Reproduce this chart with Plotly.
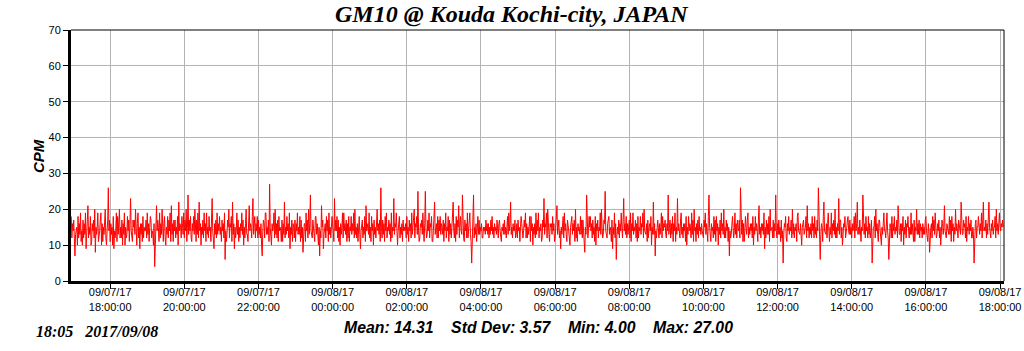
import plotly.graph_objects as go
import pandas as pd

# ---------------- data ----------------
title_text = "GM10 @ Kouda Kochi-city, JAPAN"
y_label = "CPM"
stamp_time = "18:05"
stamp_date = "2017/09/08"

start_time = "2017-09-07 16:57"   # first one-minute sample
sample_step = "1min"

# CPM readings, one row per hour (60 one-minute samples)
cpm_rows = [
    [18,12,16,14,17,11,7,13,15,15,10,18,12,16,13,19,11,14,10,17,12,16,13,19,9,14,17,21,12,15,13,18,10,11,16,14,17,12,20,8,15,13,15,19,11,12,14,17,19,10,16,11,15,13,16,20,12,10,14,17],
    [26,14,17,11,16,13,15,10,18,9,14,12,14,19,11,18,13,16,20,12,15,12,17,10,16,13,19,10,15,12,13,18,14,17,11,16,23,14,12,11,17,15,17,13,20,14,10,16,19,12,15,9,16,13,16,11,18,12,15,14],
    [14,17,12,19,13,16,11,15,18,17,12,14,13,10,16,4,12,15,21,14,17,15,11,19,12,16,13,20,14,11,16,18,12,10,15,13,18,12,17,14,19,11,21,13,16,11,17,14,17,12,15,13,18,10,22,14,16,15,12,18],
    [16,13,19,12,17,14,20,11,15,24,13,17,14,18,12,11,16,14,18,13,20,15,11,17,13,19,12,22,14,16,10,15,13,17,12,19,14,16,11,19,13,15,12,18,14,15,11,17,23,14,12,9,16,13,17,12,19,13,16,14],
    [18,13,15,11,17,14,16,12,19,6,14,11,13,17,15,20,12,16,15,18,11,22,13,16,9,15,12,14,19,13,17,11,15,12,16,14,19,13,17,10,15,12,16,20,13,13,11,17,21,14,16,15,12,18,23,13,15,18,12,16],
    [14,18,12,17,13,15,12,16,10,7,14,17,16,12,19,19,13,15,13,17,11,27,15,12,10,16,14,15,19,12,20,13,16,12,17,11,18,14,15,14,11,17,11,16,13,22,12,15,13,18,14,16,12,19,9,15,13,17,11,16],
    [15,12,17,11,16,14,19,13,15,13,18,11,17,12,15,8,14,16,16,11,19,14,17,12,20,13,16,24,14,12,12,17,15,15,11,18,18,13,16,13,10,15,7,14,12,21,15,17,9,13,16,16,12,18,14,17,11,19,13,15],
    [12,15,18,16,13,11,23,14,17,14,18,12,17,11,15,10,16,13,15,19,12,19,14,16,13,17,11,16,12,18,11,15,14,18,13,16,14,19,12,20,13,15,12,16,11,15,18,13,9,14,16,17,12,15,13,18,11,21,14,16],
    [16,13,19,12,15,11,18,14,16,10,17,13,15,12,18,20,14,16,13,17,11,26,15,12,17,13,16,11,18,14,19,12,15,14,17,13,16,11,19,12,15,14,23,13,16,15,19,11,10,14,17,18,12,15,13,16,11,17,14,15],
    [14,16,12,18,13,15,11,17,14,16,12,19,13,15,17,20,12,16,15,18,13,25,14,11,12,16,15,17,13,19,14,11,16,25,15,12,13,17,14,19,12,16,15,18,11,11,14,17,22,13,15,16,12,18,12,17,14,18,13,16],
    [15,13,17,11,16,14,19,12,15,14,18,11,17,13,16,12,15,19,22,14,12,16,11,18,13,17,15,21,12,16,18,14,13,24,15,12,11,17,14,16,12,19,12,15,17,19,13,11,5,14,16,24,12,15,13,16,11,15,18,13],
    [17,13,15,14,16,12,12,15,14,15,13,17,14,16,13,16,12,15,13,17,14,18,13,15,12,16,14,15,13,17,14,12,16,17,14,13,11,15,14,16,13,17,13,15,12,15,18,13,19,14,16,22,13,15,12,16,14,14,17,12],
    [13,16,12,17,14,15,11,15,18,16,13,12,14,17,15,19,12,16,12,15,13,15,18,11,18,14,16,10,15,13,16,12,19,13,17,14,19,12,15,14,16,11,12,17,15,23,13,16,15,19,12,20,14,13,11,16,15,16,13,18],
    [14,16,11,12,15,17,21,13,16,17,12,14,9,15,13,15,18,12,19,14,16,13,11,17,16,14,12,10,15,18,18,13,16,14,17,11,20,12,15,11,16,14,15,13,18,13,17,12,17,14,10,8,15,13,24,16,12,14,18,15],
    [18,14,16,12,17,13,15,11,18,10,16,14,17,12,15,14,19,13,20,15,12,13,17,16,25,14,12,12,16,18,18,13,15,14,11,17,9,15,13,19,12,16,6,13,15,13,17,12,16,14,19,15,12,17,23,14,16,13,18,12],
    [16,13,15,17,12,19,11,16,14,19,13,15,14,17,12,16,11,18,12,15,14,18,13,16,15,19,12,20,14,13,13,16,11,17,12,15,16,14,18,10,15,13,22,13,16,7,14,12,14,17,15,12,16,13,15,19,12,18,14,16],
    [15,17,13,12,16,14,24,13,15,17,12,16,13,18,11,16,14,19,11,15,13,23,14,16,14,12,17,19,13,15,12,16,14,16,11,18,10,15,13,18,14,16,15,12,19,13,17,11,20,14,15,11,16,13,17,12,18,14,15,13],
    [16,14,13,12,17,15,19,13,16,14,11,18,24,15,13,11,16,14,15,12,18,13,17,11,18,14,16,10,15,13,17,12,19,14,16,13,20,12,15,12,17,14,16,11,15,7,14,12,13,16,18,15,12,14,19,13,16,12,17,15],
    [14,17,12,26,15,13,17,11,16,11,14,18,15,13,17,19,12,15,13,16,14,16,12,18,10,15,13,18,14,16,14,11,17,21,13,15,12,16,14,16,13,19,9,15,12,17,13,16,13,18,11,20,14,15,15,12,17,12,16,14],
    [24,14,12,16,13,17,13,15,11,17,12,14,5,13,16,15,18,12,11,16,14,18,13,15,14,17,12,20,13,16,12,15,14,16,11,18,19,14,13,13,16,12,10,15,17,17,13,14,15,18,12,21,14,16,12,15,13,16,12,18],
    [14,16,12,18,13,15,12,17,14,26,15,12,6,13,16,15,11,18,22,14,13,13,16,12,16,19,14,11,15,13,19,12,16,14,17,13,20,12,15,12,16,14,23,13,17,17,12,15,10,14,16,15,18,12,13,15,17,18,14,13],
    [17,13,15,12,16,14,15,18,12,19,14,16,22,13,15,13,17,11,11,15,14,24,16,13,16,12,18,14,15,12,18,13,16,12,14,17,5,13,15,15,18,12,20,14,16,13,11,17,17,14,12,10,15,13,16,19,14,14,12,16],
    [19,14,12,6,13,16,15,12,18,12,16,14,18,13,15,14,17,12,21,15,13,13,16,11,16,14,18,10,15,13,17,12,16,15,18,14,12,15,13,19,13,16,14,11,17,11,15,14,20,13,16,13,17,12,16,14,15,12,16,13],
    [15,13,17,18,14,12,11,16,14,8,13,15,16,12,18,14,17,13,19,15,12,13,16,14,17,12,15,10,14,17,16,13,15,21,14,12,12,16,15,15,13,18,13,17,11,18,14,16,11,15,13,20,14,16,14,12,17,16,15,13],
    [22,14,13,13,17,15,16,12,18,11,15,14,18,13,16,14,17,12,12,15,13,5,14,16,17,12,15,15,18,13,13,16,14,19,12,17,22,14,15,14,17,12,16,13,18,22,15,13,12,16,14,17,13,15,15,18,12,20,14,16],
    [13,16,19,15,14,16,15,17,15],
]

stat_mean = 14.31
stat_std = 3.57
stat_min = 4.00
stat_max = 27.00

tick_values = [
    "2017-09-07 18:00", "2017-09-07 20:00", "2017-09-07 22:00",
    "2017-09-08 00:00", "2017-09-08 02:00", "2017-09-08 04:00",
    "2017-09-08 06:00", "2017-09-08 08:00", "2017-09-08 10:00",
    "2017-09-08 12:00", "2017-09-08 14:00", "2017-09-08 16:00",
    "2017-09-08 18:00",
]
tick_labels = [
    "09/07/17<br>18:00:00", "09/07/17<br>20:00:00", "09/07/17<br>22:00:00",
    "09/08/17<br>00:00:00", "09/08/17<br>02:00:00", "09/08/17<br>04:00:00",
    "09/08/17<br>06:00:00", "09/08/17<br>08:00:00", "09/08/17<br>10:00:00",
    "09/08/17<br>12:00:00", "09/08/17<br>14:00:00", "09/08/17<br>16:00:00",
    "09/08/17<br>18:00:00",
]
x_range = ["2017-09-07 16:56:36", "2017-09-08 18:06:24"]

# ---------------- figure ----------------
cpm = [v for row in cpm_rows for v in row]
times = pd.date_range(start_time, periods=len(cpm), freq=sample_step)

W, H = 1024, 351
L, R, T, B = 71, 20, 30, 70
PW, PH = W - L - R, H - T - B


def px(x):
    return (x - L) / PW


def py(y):
    return (H - B - y) / PH


fig = go.Figure()
fig.add_trace(go.Scatter(
    x=[times[0], times[-1]], y=[stat_mean, stat_mean], mode="lines",
    line=dict(color="#FFB400", width=1), hoverinfo="skip", showlegend=False))
fig.add_trace(go.Scatter(
    x=times, y=cpm, mode="lines",
    line=dict(color="#FF0000", width=1), showlegend=False))

tick_font = dict(family="Liberation Sans, Arial, sans-serif", size=11, color="black")

fig.update_xaxes(
    type="date", range=x_range, automargin=False,
    tickmode="array", tickvals=tick_values, ticktext=tick_labels,
    tickfont=tick_font, ticks="outside", ticklen=5, tickcolor="black",
    ticklabelstandoff=-6,
    showgrid=True, gridcolor="#B4B4B4", gridwidth=1,
    showline=True, linecolor="black", linewidth=3, mirror=False,
    zeroline=False,
)
fig.update_yaxes(
    range=[0, 70], dtick=10, tick0=0, automargin=False,
    tickfont=tick_font, ticks="outside", ticklen=5, tickcolor="black",
    showgrid=True, gridcolor="#B4B4B4", gridwidth=1,
    showline=True, linecolor="black", linewidth=3, mirror=False,
    zeroline=False,
)

# thin top and right frame
fig.add_shape(type="line", xref="paper", yref="paper", x0=0, x1=1, y0=1, y1=1,
              line=dict(color="black", width=1))
fig.add_shape(type="line", xref="paper", yref="paper", x0=1, x1=1, y0=0, y1=1,
              line=dict(color="black", width=1))

serif = "Liberation Serif, Times New Roman, serif"
sans = "Liberation Sans, Arial, sans-serif"
nb = "\u00a0"

stats_text = (f"Mean: {stat_mean:.2f}{nb*4}Std Dev: {stat_std:.2f}{nb*4}"
              f"Min: {stat_min:.2f}{nb*4}Max: {stat_max:.2f}")

fig.add_annotation(text=f"<b><i>{title_text}</i></b>", xref="paper", yref="paper",
                   x=px(512), y=py(14), xanchor="center", yanchor="middle",
                   showarrow=False, font=dict(family=serif, size=24, color="black"))
fig.add_annotation(text=f"<b><i>{y_label}</i></b>", xref="paper", yref="paper",
                   x=px(38), y=py(156), xanchor="center", yanchor="middle",
                   textangle=-90, showarrow=False,
                   font=dict(family=sans, size=15, color="black"))
fig.add_annotation(text=f"<b><i>{stamp_time}{nb*3}{stamp_date}</i></b>",
                   xref="paper", yref="paper",
                   x=px(34), y=py(331), xanchor="left", yanchor="middle",
                   showarrow=False, font=dict(family=serif, size=16, color="black"))
fig.add_annotation(text=f"<b><i>{stats_text}</i></b>", xref="paper", yref="paper",
                   x=px(538), y=py(327), xanchor="center", yanchor="middle",
                   showarrow=False, font=dict(family=sans, size=15.8, color="black"))

fig.update_layout(
    width=W, height=H,
    margin=dict(l=L, r=R, t=T, b=B, pad=0),
    paper_bgcolor="white", plot_bgcolor="white",
    showlegend=False,
)

fig.write_html("out.html")
